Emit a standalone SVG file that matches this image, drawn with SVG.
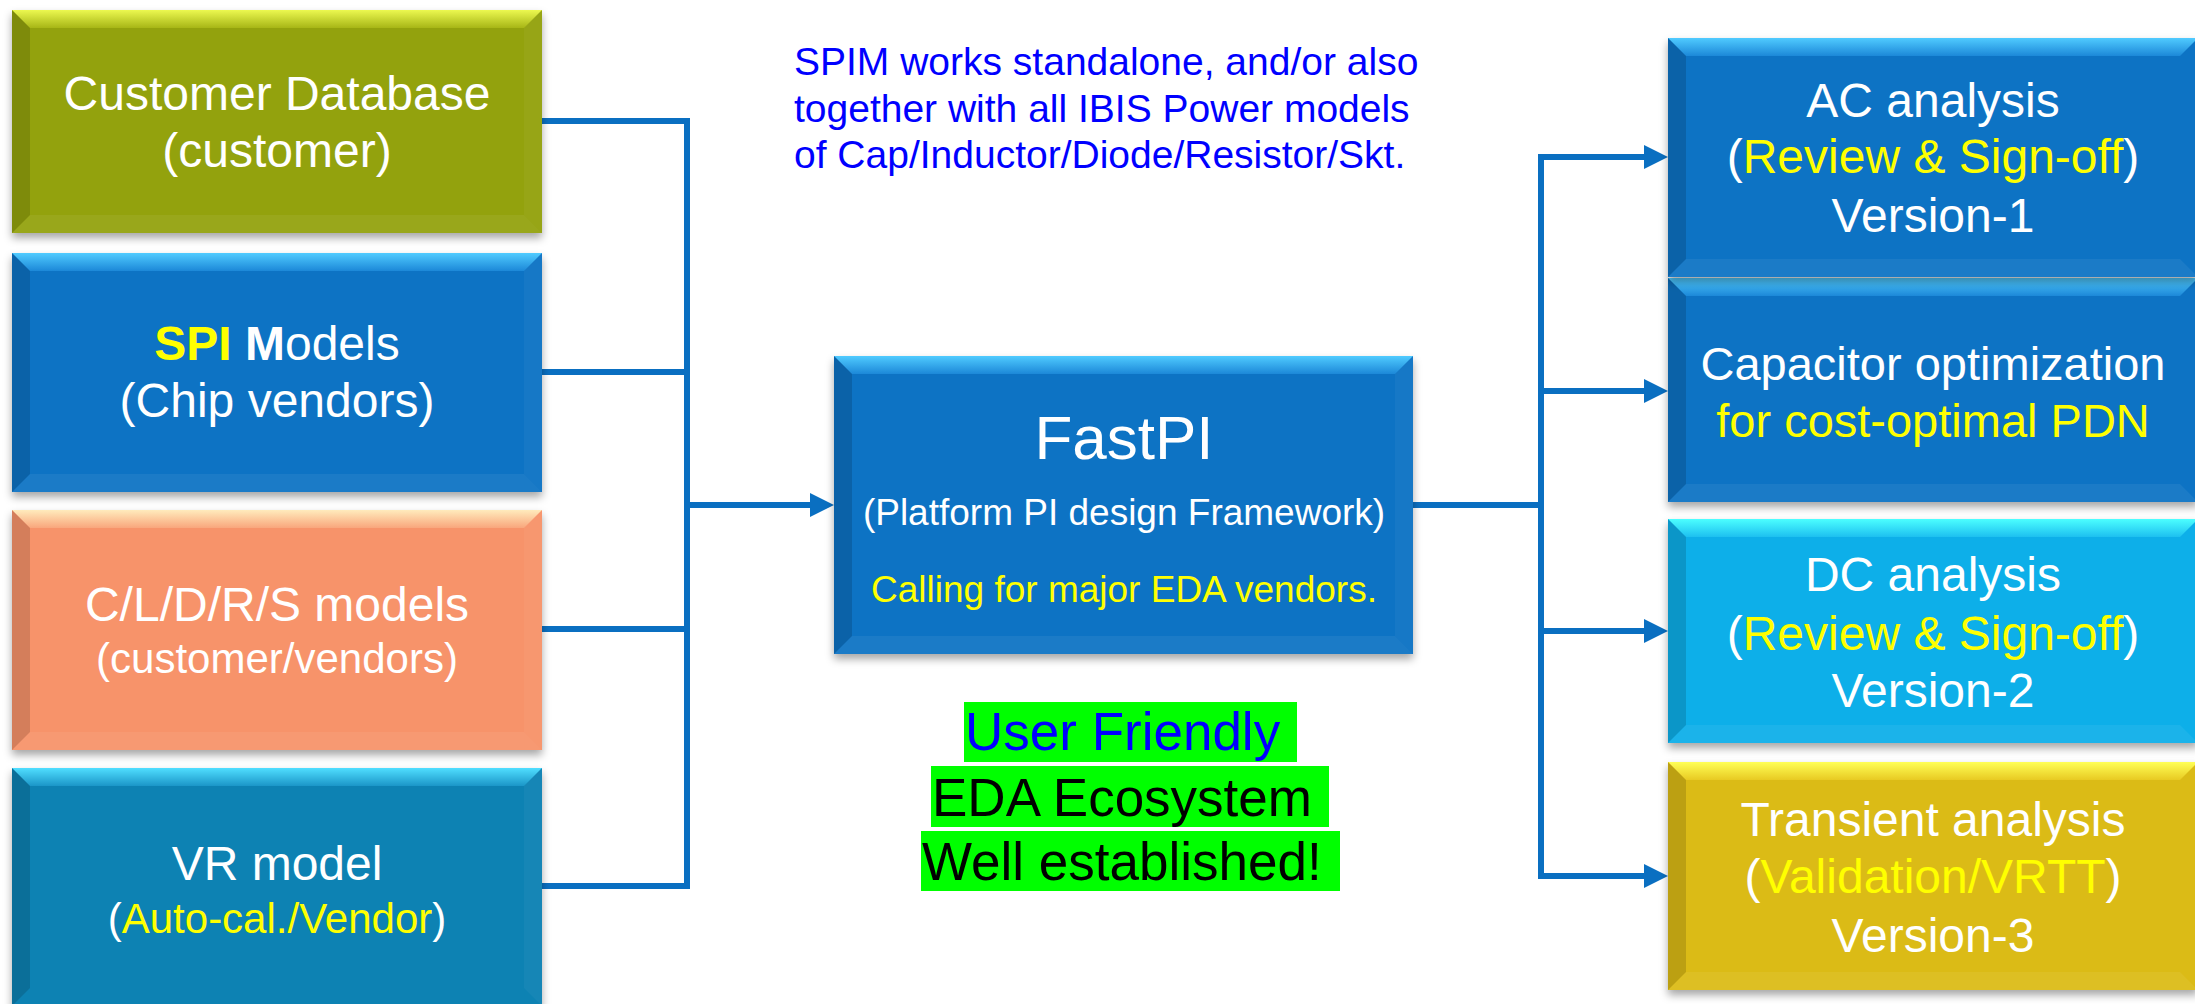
<svg xmlns="http://www.w3.org/2000/svg" width="2195" height="1004" viewBox="0 0 2195 1004">
<style>
text{font-family:"Liberation Sans",Arial,sans-serif;}
.w{fill:#FFFFFF;text-anchor:middle;}
.f48{font-size:48px;}
.f47{font-size:47px;}
.f42{font-size:42px;}
.f37{font-size:37px;}
.y{fill:#FFFF00;}
.lf{fill:#000000;fill-opacity:0.14;}
.bt{fill:#FFFFFF;fill-opacity:0.06;}
.rt{fill:#FFFFFF;fill-opacity:0.04;}
.hl{fill:#00FF00;}
.big{font-size:53px;}
.con{fill:none;stroke:#0A6FC1;stroke-width:6;}
</style>
<defs>
<filter id="sh" x="-5%" y="-5%" width="110%" height="125%">
<feDropShadow dx="0" dy="5" stdDeviation="4" flood-color="#000000" flood-opacity="0.35"/>
</filter>
<linearGradient id="gOl" x1="0" y1="0" x2="0" y2="1"><stop offset="0" stop-color="#ECF850"/><stop offset="1" stop-color="#A7B616"/></linearGradient>
<linearGradient id="gBl" x1="0" y1="0" x2="0" y2="1"><stop offset="0" stop-color="#50CBFF"/><stop offset="1" stop-color="#1C88D8"/></linearGradient>
<linearGradient id="gSa" x1="0" y1="0" x2="0" y2="1"><stop offset="0" stop-color="#FFEBBC"/><stop offset="1" stop-color="#F9A67C"/></linearGradient>
<linearGradient id="gTe" x1="0" y1="0" x2="0" y2="1"><stop offset="0" stop-color="#50DEFF"/><stop offset="1" stop-color="#1B96C8"/></linearGradient>
<linearGradient id="gDc" x1="0" y1="0" x2="0" y2="1"><stop offset="0" stop-color="#4CFFFF"/><stop offset="1" stop-color="#1DC0F0"/></linearGradient>
<linearGradient id="gTr" x1="0" y1="0" x2="0" y2="1"><stop offset="0" stop-color="#FFFF56"/><stop offset="1" stop-color="#E8CA22"/></linearGradient>
<marker id="ah" markerUnits="userSpaceOnUse" markerWidth="24" markerHeight="24" viewBox="0 0 24 24" refX="2" refY="12" orient="auto">
<path d="M0,0 L24,12 L0,24 Z" fill="#0A6FC1"/>
</marker>
</defs>
<rect x="0" y="0" width="2195" height="1004" fill="#FFFFFF"/>

<g id="connectors">
<path class="con" d="M542,121 H687 V886 H542"/>
<path class="con" d="M542,372 H687"/>
<path class="con" d="M542,629 H687"/>
<path class="con" d="M687,505 H812" marker-end="url(#ah)"/>
<path class="con" d="M1413,505 H1541"/>
<path class="con" d="M1541,154 V879"/>
<path class="con" d="M1538,157 H1646" marker-end="url(#ah)"/>
<path class="con" d="M1541,391 H1646" marker-end="url(#ah)"/>
<path class="con" d="M1541,631 H1646" marker-end="url(#ah)"/>
<path class="con" d="M1538,876 H1646" marker-end="url(#ah)"/>
</g>

<g id="customer-db">
<rect x="12" y="10" width="530" height="223" fill="#93A207" filter="url(#sh)"/>
<polygon points="12,10 542,10 524,28 30,28" fill="url(#gOl)"/>
<polygon class="lf" points="12,10 30,28 30,215 12,233"/>
<polygon class="bt" points="12,233 30,215 524,215 542,233"/>
<polygon class="rt" points="542,10 524,28 524,215 542,233"/>
<text class="w f48" x="277" y="110">Customer Database</text>
<text class="w f48" x="277" y="167">(customer)</text>
</g>

<g id="spi-models">
<rect x="12" y="253" width="530" height="239" fill="#0A73C4" filter="url(#sh)"/>
<polygon points="12,253 542,253 524,271 30,271" fill="url(#gBl)"/>
<polygon class="lf" points="12,253 30,271 30,474 12,492"/>
<polygon class="bt" points="12,492 30,474 524,474 542,492"/>
<polygon class="rt" points="542,253 524,271 524,474 542,492"/>
<text class="w f48" x="277" y="360"><tspan font-weight="bold" fill="#FFFF00">SPI</tspan> <tspan font-weight="bold">M</tspan>odels</text>
<text class="w f48" x="277" y="417">(Chip vendors)</text>
</g>

<g id="cldrs-models">
<rect x="12" y="510" width="530" height="240" fill="#F7936B" filter="url(#sh)"/>
<polygon points="12,510 542,510 524,528 30,528" fill="url(#gSa)"/>
<polygon class="lf" points="12,510 30,528 30,732 12,750"/>
<polygon class="bt" points="12,750 30,732 524,732 542,750"/>
<polygon class="rt" points="542,510 524,528 524,732 542,750"/>
<text class="w f48" x="277" y="621">C/L/D/R/S models</text>
<text class="w f42" x="277" y="673">(customer/vendors)</text>
</g>

<g id="vr-model">
<rect x="12" y="768" width="530" height="238" fill="#0A82B3" filter="url(#sh)"/>
<polygon points="12,768 542,768 524,786 30,786" fill="url(#gTe)"/>
<polygon class="lf" points="12,768 30,786 30,988 12,1006"/>
<polygon class="rt" points="542,768 524,786 524,988 542,1006"/>
<text class="w f48" x="277" y="880">VR model</text>
<text class="w f42" x="277" y="933">(<tspan fill="#FFFF00">Auto-cal./Vendor</tspan>)</text>
</g>

<g id="spim-note">
<text x="794" y="75" font-size="39" fill="#0000FF">SPIM works standalone, and/or also</text>
<text x="794" y="122" font-size="39" fill="#0000FF">together with all IBIS Power models</text>
<text x="794" y="168" font-size="39" fill="#0000FF">of Cap/Inductor/Diode/Resistor/Skt.</text>
</g>

<g id="fastpi">
<rect x="834" y="356" width="579" height="298" fill="#0A73C4" filter="url(#sh)"/>
<polygon points="834,356 1413,356 1395,374 852,374" fill="url(#gBl)"/>
<polygon class="lf" points="834,356 852,374 852,636 834,654"/>
<polygon class="bt" points="834,654 852,636 1395,636 1413,654"/>
<polygon class="rt" points="1413,356 1395,374 1395,636 1413,654"/>
<text class="w" x="1124" y="459" font-size="62">FastPI</text>
<text class="w f37" x="1124" y="525">(Platform PI design Framework)</text>
<text class="f37" x="1124" y="602" fill="#FFFF00" text-anchor="middle">Calling for major EDA vendors.</text>
</g>

<g id="highlights">
<rect class="hl" x="964" y="702" width="333" height="60"/>
<text class="big" x="965" y="750" fill="#0000FF">User Friendly</text>
<rect class="hl" x="931" y="766" width="398" height="61"/>
<text class="big" x="932" y="816" fill="#000000">EDA Ecosystem</text>
<rect class="hl" x="921" y="831" width="419" height="60"/>
<text class="big" x="922" y="880" fill="#000000">Well established!</text>
</g>

<g id="cap-opt">
<rect x="1668" y="278" width="530" height="224" fill="#0A73C4" filter="url(#sh)"/>
<polygon points="1668,278 2198,278 2180,296 1686,296" fill="url(#gBl)"/>
<polygon class="lf" points="1668,278 1686,296 1686,484 1668,502"/>
<polygon class="bt" points="1668,502 1686,484 2180,484 2198,502"/>
<text class="w f47" x="1933" y="380">Capacitor optimization</text>
<text class="f47" x="1933" y="437" fill="#FFFF00" text-anchor="middle">for cost-optimal PDN</text>
</g>

<g id="ac-analysis">
<rect x="1668" y="38" width="530" height="239" fill="#0A73C4" filter="url(#sh)"/>
<polygon points="1668,38 2198,38 2180,56 1686,56" fill="url(#gBl)"/>
<polygon class="lf" points="1668,38 1686,56 1686,259 1668,277"/>
<polygon class="bt" points="1668,277 1686,259 2180,259 2198,277"/>
<text class="w f48" x="1933" y="117">AC analysis</text>
<text class="w f48" x="1933" y="173">(<tspan fill="#FFFF00">Review &amp; Sign-off</tspan>)</text>
<text class="w f48" x="1933" y="232">Version-1</text>
</g>

<g id="dc-analysis">
<rect x="1668" y="519" width="530" height="224" fill="#08AFE9" filter="url(#sh)"/>
<polygon points="1668,519 2198,519 2180,537 1686,537" fill="url(#gDc)"/>
<polygon class="lf" points="1668,519 1686,537 1686,725 1668,743"/>
<polygon class="bt" points="1668,743 1686,725 2180,725 2198,743"/>
<text class="w f48" x="1933" y="591">DC analysis</text>
<text class="w f48" x="1933" y="650">(<tspan fill="#FFFF00">Review &amp; Sign-off</tspan>)</text>
<text class="w f48" x="1933" y="707">Version-2</text>
</g>

<g id="transient-analysis">
<rect x="1668" y="762" width="530" height="228" fill="#DBBB16" filter="url(#sh)"/>
<polygon points="1668,762 2198,762 2180,780 1686,780" fill="url(#gTr)"/>
<polygon class="lf" points="1668,762 1686,780 1686,972 1668,990"/>
<polygon class="bt" points="1668,990 1686,972 2180,972 2198,990"/>
<text class="w f48" x="1933" y="836">Transient analysis</text>
<text class="w f48" x="1933" y="893">(<tspan fill="#FFFF00">Validation/VRTT</tspan>)</text>
<text class="w f48" x="1933" y="952">Version-3</text>
</g>
</svg>
